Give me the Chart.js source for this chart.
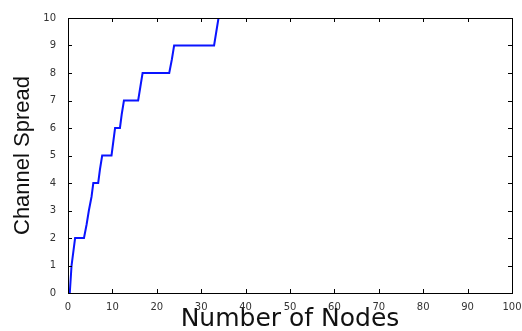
<!DOCTYPE html>
<html>
<head>
<meta charset="utf-8">
<script src="https://cdn.jsdelivr.net/npm/chart.js@4"></script>
<style>
  html, body { margin: 0; padding: 0; background: #fff; }
  #wrap { width: 522px; height: 331px; }
</style>
</head>
<body>
<div id="wrap"><canvas id="chart" width="522" height="331"></canvas></div>
<script>
// values (step-like growth)
const nodes = [0.4, 0.8, 1.6, 3.6, 4.2, 4.7, 5.3, 5.7, 6.8, 7.2, 7.7, 9.8, 10.2, 10.6, 11.7, 12.1, 12.6, 15.8, 16.3, 16.8, 22.8, 23.4, 23.9, 32.9, 33.4, 33.9];
const spread = [0, 1, 2, 2, 2.5, 3, 3.5, 4, 4, 4.5, 5, 5, 5.5, 6, 6, 6.5, 7, 7, 7.5, 8, 8, 8.5, 9, 9, 9.5, 10];
const xTicks = [0, 10, 20, 30, 40, 50, 60, 70, 80, 90, 100];
const yTicks = [0, 1, 2, 3, 4, 5, 6, 7, 8, 9, 10];

const points = nodes.map((x, i) => ({ x: x, y: spread[i] }));

// MATLAB-ish inward ticks and box
const boxTicks = {
  id: 'boxTicks',
  afterDraw(chart) {
    const { ctx, chartArea: a, scales } = chart;
    ctx.save();
    ctx.strokeStyle = '#000';
    ctx.lineWidth = 1;
    ctx.strokeRect(a.left + 0.5, a.top + 0.5, a.right - a.left, a.bottom - a.top);
    ctx.beginPath();
    xTicks.forEach(v => {
      const px = Math.round(scales.x.getPixelForValue(v)) + 0.5;
      ctx.moveTo(px, a.bottom); ctx.lineTo(px, a.bottom - 4);
      ctx.moveTo(px, a.top); ctx.lineTo(px, a.top + 4);
    });
    yTicks.forEach(v => {
      const py = Math.round(scales.y.getPixelForValue(v)) + 0.5;
      ctx.moveTo(a.left, py); ctx.lineTo(a.left + 4, py);
      ctx.moveTo(a.right, py); ctx.lineTo(a.right - 4, py);
    });
    ctx.stroke();
    ctx.restore();
  }
};

new Chart(document.getElementById('chart'), {
  type: 'line',
  data: {
    datasets: [{
      data: points,
      borderColor: 'rgb(10, 20, 255)',
      borderWidth: 2,
      pointRadius: 0,
      tension: 0
    }]
  },
  options: {
    responsive: false,
    animation: false,
    layout: { padding: { top: 18, right: 10, left: 0, bottom: 0 } },
    plugins: { legend: { display: false }, tooltip: { enabled: false } },
    scales: {
      x: {
        type: 'linear',
        min: 0, max: 100,
        afterBuildTicks: s => { s.ticks = xTicks.map(v => ({ value: v })); },
        afterFit: s => { s.height = 38; },
        grid: { display: false },
        border: { display: false },
        ticks: { color: '#333', font: { family: 'DejaVu Sans', size: 10 }, padding: 0, maxRotation: 0 },
        title: { display: true, text: 'Number of Nodes', color: '#111', font: { family: 'DejaVu Sans', size: 25 }, padding: { top: 0, bottom: -3 } }
      },
      y: {
        min: 0, max: 10,
        afterBuildTicks: s => { s.ticks = yTicks.map(v => ({ value: v })); },
        afterFit: s => { s.width = 68; },
        grid: { display: false },
        border: { display: false },
        ticks: { color: '#333', font: { family: 'DejaVu Sans', size: 10 }, padding: 4 },
        title: { display: true, text: 'Channel Spread', color: '#111', font: { family: 'Liberation Sans', size: 22 }, padding: { top: 10, bottom: 2 } }
      }
    }
  },
  plugins: [boxTicks]
});
</script>
</body>
</html>
